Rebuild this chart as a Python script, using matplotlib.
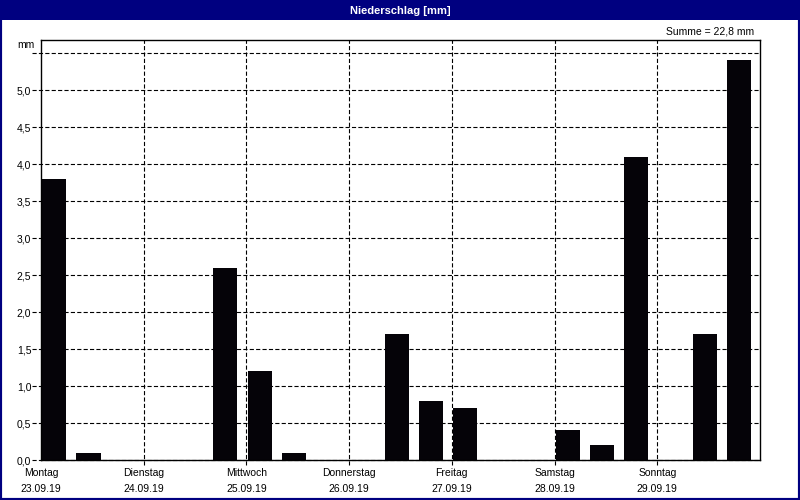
import matplotlib
matplotlib.use("Agg")
import matplotlib.pyplot as plt
from matplotlib.patches import Rectangle

# 8-hour precipitation sums, 3 per day
tage = ["Montag", "Dienstag", "Mittwoch", "Donnerstag", "Freitag", "Samstag", "Sonntag"]
daten = ["23.09.19", "24.09.19", "25.09.19", "26.09.19", "27.09.19", "28.09.19", "29.09.19"]
niederschlag = [3.8, 0.1, 0.0, 0.0, 0.0, 2.6, 1.2, 0.1, 0.0, 0.0, 1.7, 0.8, 0.7,
                0.0, 0.0, 0.4, 0.2, 4.1, 0.0, 1.7, 5.4]
y_ticks = [0.0, 0.5, 1.0, 1.5, 2.0, 2.5, 3.0, 3.5, 4.0, 4.5, 5.0]
y_grid = y_ticks + [5.5]
x_grid = list(range(8))

plt.rcParams['font.family'] = ['Liberation Sans', 'DejaVu Sans']
plt.rcParams['lines.scale_dashes'] = False

fig = plt.figure(figsize=(8, 5), dpi=100)
fig.patch.set_facecolor('white')

navy = '#000080'
# window frame and title bar
fig.patches.append(Rectangle((0, 0), 1, 1, transform=fig.transFigure, fill=False,
                             edgecolor=navy, linewidth=3, zorder=0))
fig.patches.append(Rectangle((0, 0.96), 1, 0.04, transform=fig.transFigure,
                             facecolor=navy, edgecolor='none', zorder=1))
fig.text(0.5, 0.979, "Niederschlag [mm]", color='white', fontsize=8, fontweight='bold',
         ha='center', va='center')

ax = fig.add_axes([41/800, 40/500, 719/800, 420/500])

x = [i / 3 + 0.012 for i in range(len(niederschlag))]
ax.bar(x, niederschlag, width=0.234, align='edge', color='#050308', zorder=3)

ax.set_xlim(0, 7)
ax.set_ylim(0, 5.676)

ax.set_yticks(y_grid)
ax.set_yticklabels([f"{v:.1f}".replace('.', ',') for v in y_ticks] + [""])
ax.set_xticks(x_grid)
ax.set_xticklabels([f"{t}\n{d}" for t, d in zip(tage, daten)] + [""], linespacing=1.75)

ax.tick_params(axis='both', length=0, labelsize=7.5)
ax.tick_params(axis='y', pad=7)
ax.tick_params(axis='x', pad=6)

# dashed grid, running a few pixels past the frame like the original ticks
dash = (0, (3, 1.6))
for yv in y_grid:
    ax.plot([-9/719, 1], [yv, yv], transform=ax.get_yaxis_transform(), color='black',
            linestyle=dash, linewidth=0.8, clip_on=False, zorder=1)
for xv in x_grid[1:-1]:
    ax.plot([xv, xv], [-5/420, 1], transform=ax.get_xaxis_transform(), color='black',
            linestyle=dash, linewidth=0.8, clip_on=False, zorder=1)

for s in ax.spines.values():
    s.set_linewidth(1.0)
    s.set_color('black')
    s.set_zorder(4)

fig.text(35/800, 1 - 45/500, "mm", fontsize=7.5, ha='right', va='center')
fig.text(754/800, 1 - 31/500, "Summe = 22,8 mm", fontsize=7.5, ha='right', va='center')

fig.savefig("out.png", dpi=100)
